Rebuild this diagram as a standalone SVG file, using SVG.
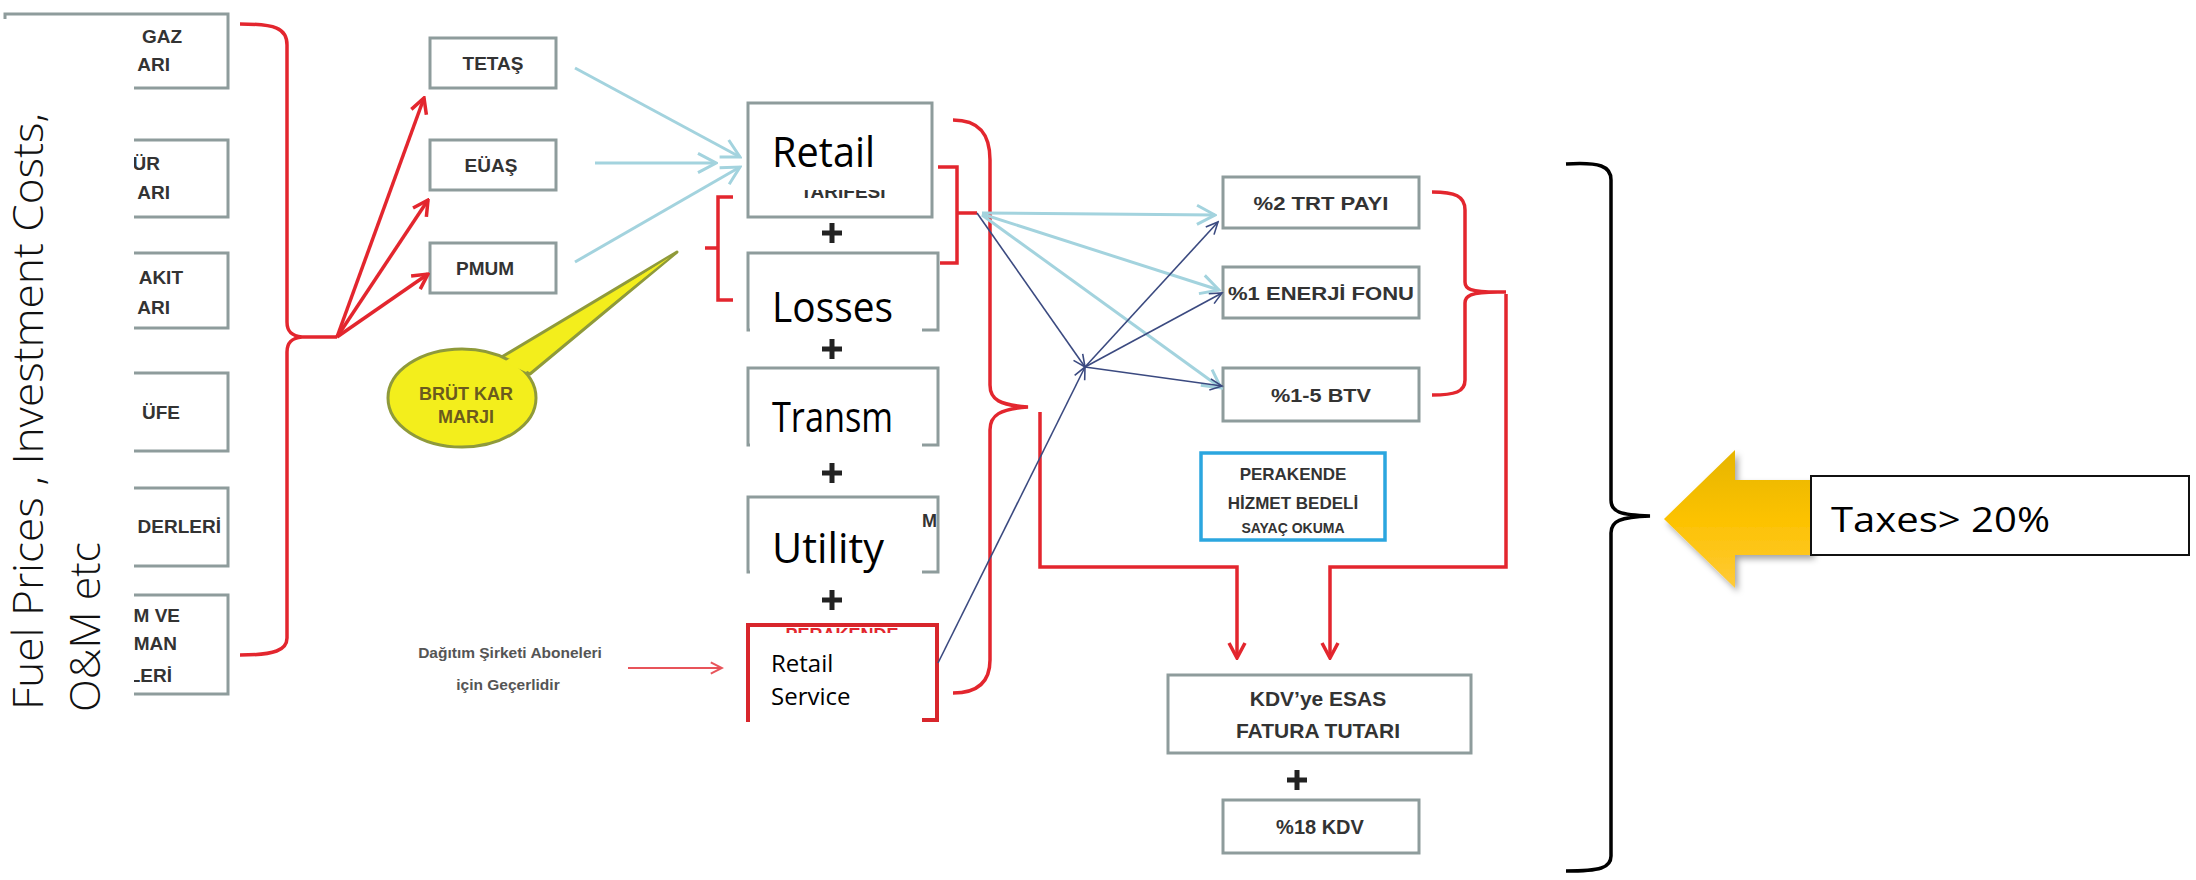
<svg xmlns="http://www.w3.org/2000/svg" width="2196" height="880" viewBox="0 0 2196 880">
<style>
.box{fill:#fff;stroke:#8e9c9c;stroke-width:3}
.lbl{font-family:"Liberation Sans",Arial,sans-serif;font-weight:bold;fill:#333;font-size:19px}
.mid{text-anchor:middle}
.end{text-anchor:end}
.big{font-family:"Open Sans","Liberation Sans",sans-serif;font-size:42px;fill:#000}
.red{fill:none;stroke:#e3262e;stroke-width:3.5}
.lb{stroke:#a3d3de;stroke-width:3;fill:none}
.nv{stroke:#3b4a80;stroke-width:1.6;fill:none}
.cover{fill:#fff}
.plus{stroke:#222;stroke-width:5;fill:none}
</style>
<defs>
<marker id="mRed" viewBox="0 0 20 20" refX="18" refY="10" markerWidth="20" markerHeight="20" markerUnits="userSpaceOnUse" orient="auto"><path d="M3,2 L18,10 L3,18" fill="none" stroke="#e3262e" stroke-width="3.5"/></marker>
<marker id="mRedThin" viewBox="0 0 20 20" refX="18" refY="10" markerWidth="16" markerHeight="16" markerUnits="userSpaceOnUse" orient="auto"><path d="M4,3 L18,10 L4,17" fill="none" stroke="#e8545a" stroke-width="2.5"/></marker>
<marker id="mLb" viewBox="0 0 20 20" refX="18" refY="10" markerWidth="24" markerHeight="24" markerUnits="userSpaceOnUse" orient="auto"><path d="M3,2 L18,10 L3,18" fill="none" stroke="#a3d3de" stroke-width="2.5"/></marker>
<marker id="mNv" viewBox="0 0 20 20" refX="18" refY="10" markerWidth="16" markerHeight="16" markerUnits="userSpaceOnUse" orient="auto"><path d="M3,3 L18,10 L3,17" fill="none" stroke="#3b4a80" stroke-width="2"/></marker>
<linearGradient id="gY" x1="0" y1="0" x2="0" y2="1"><stop offset="0" stop-color="#e6b500"/><stop offset="0.5" stop-color="#fcc200"/><stop offset="1" stop-color="#ffca38"/></linearGradient>
<filter id="sh" x="-20%" y="-20%" width="140%" height="140%"><feDropShadow dx="3" dy="4" stdDeviation="3" flood-color="#000" flood-opacity="0.35"/></filter>
</defs>
<rect width="2196" height="880" fill="#fff"/>

<!-- left input boxes -->
<g id="in1"><rect class="box" x="5" y="14" width="223" height="74"/><text class="lbl end" x="182" y="43">GAZ</text><text class="lbl end" x="170" y="71">ARI</text></g>
<g id="in2"><rect class="box" x="5" y="140" width="223" height="77"/><text class="lbl end" x="160" y="170">ÜR</text><text class="lbl end" x="170" y="199">ARI</text></g>
<g id="in3"><rect class="box" x="5" y="253" width="223" height="75"/><text class="lbl end" x="183" y="284">AKIT</text><text class="lbl end" x="170" y="314">ARI</text></g>
<g id="in4"><rect class="box" x="5" y="373" width="223" height="78"/><text class="lbl end" x="180" y="419">ÜFE</text></g>
<g id="in5"><rect class="box" x="5" y="488" width="223" height="78"/><text class="lbl end" x="221" y="533">DERLERİ</text></g>
<g id="in6"><rect class="box" x="5" y="595" width="223" height="99"/><text class="lbl end" x="180" y="622">M VE</text><text class="lbl end" x="177" y="650">MAN</text><text class="lbl end" x="172" y="682">LERİ</text></g>
<rect class="cover" x="0" y="19" width="134" height="702"/>
<g id="sideLabel" font-family="Open Sans, Liberation Sans, sans-serif" font-weight="300" font-size="43" fill="#111">
<text transform="translate(43,710) rotate(-90)" textLength="597" lengthAdjust="spacingAndGlyphs">Fuel Prices , Investment Costs,</text>
<text transform="translate(100,712) rotate(-90)" textLength="170" lengthAdjust="spacingAndGlyphs">O&amp;M etc</text>
</g>

<!-- generator boxes -->
<g id="tetas"><rect class="box" x="430" y="38" width="126" height="50"/><text class="lbl mid" x="493" y="70">TETAŞ</text></g>
<g id="euas"><rect class="box" x="430" y="140" width="126" height="50"/><text class="lbl mid" x="491" y="172">EÜAŞ</text></g>
<g id="pmum"><rect class="box" x="430" y="243" width="126" height="50"/><text class="lbl mid" x="485" y="275">PMUM</text></g>

<!-- callout -->
<g id="brut">
<polygon points="500,358 677,252 530,374" fill="#f3ee1c" stroke="#8f9a3a" stroke-width="3" stroke-linejoin="round"/>
<ellipse cx="462" cy="398" rx="74" ry="49" fill="#f3ee1c" stroke="#8f9a3a" stroke-width="3"/>
<polygon points="504,362 670,257 526,372" fill="#f3ee1c"/>
<text class="lbl mid" x="466" y="400" style="fill:#6b5a1e;font-size:18px">BRÜT  KAR</text>
<text class="lbl mid" x="466" y="423" style="fill:#6b5a1e;font-size:18px">MARJI</text>
</g>

<!-- centre column -->
<g id="retail"><rect class="box" x="748" y="103" width="184" height="114"/><text class="lbl mid" x="843" y="198">TARİFESİ</text><rect class="cover" x="750" y="112" width="172" height="78"/><text class="big" x="772" y="167" textLength="103" lengthAdjust="spacingAndGlyphs">Retail</text></g>
<g id="losses"><rect class="box" x="748" y="253" width="190" height="77"/><path class="plus" d="M822,349 H842 M832,339 V359"/><rect class="cover" x="750" y="268" width="172" height="69"/><text class="big" x="772" y="322" textLength="121" lengthAdjust="spacingAndGlyphs">Losses</text></g>
<g id="transm"><rect class="box" x="748" y="368" width="190" height="77"/><rect class="cover" x="750" y="383" width="172" height="70"/><text class="big" x="772" y="432" textLength="121" lengthAdjust="spacingAndGlyphs">Transm</text></g>
<g id="utility"><rect class="box" x="748" y="497" width="190" height="75"/><text class="lbl end" x="937" y="527" style="font-size:18px">M</text><rect class="cover" x="750" y="508" width="172" height="79"/><text class="big" x="772" y="563" textLength="112" lengthAdjust="spacingAndGlyphs">Utility</text></g>
<g id="retailService"><rect x="748" y="625" width="189" height="95" fill="#fff" stroke="#d8262c" stroke-width="4"/><text class="lbl mid" x="842" y="641" style="fill:#e3262e;font-size:18px">PERAKENDE</text><rect class="cover" x="750" y="633" width="172" height="90"/><text x="771" y="672" font-family="Open Sans, Liberation Sans, sans-serif" font-size="24" fill="#000">Retail</text><text x="771" y="705" font-family="Open Sans, Liberation Sans, sans-serif" font-size="24" fill="#000">Service</text></g>
<g id="plusSigns"><path class="plus" d="M822,233 H842 M832,223 V243"/><path class="plus" d="M822,473 H842 M832,463 V483"/><path class="plus" d="M822,600 H842 M832,590 V610"/><path class="plus" d="M1287,780 H1307 M1297,770 V790"/></g>

<g id="note"><text class="lbl mid" x="510" y="658" style="font-size:15.5px;fill:#555">Dağıtım Şirketi Aboneleri</text><text class="lbl mid" x="508" y="690" style="font-size:15.5px;fill:#555">için  Geçerlidir</text></g>

<!-- tax boxes -->
<g id="trt"><rect class="box" x="1223" y="177" width="196" height="51"/><text class="lbl mid" x="1321" y="210" textLength="135" lengthAdjust="spacingAndGlyphs">%2 TRT  PAYI</text></g>
<g id="enerji"><rect class="box" x="1223" y="267" width="196" height="51"/><text class="lbl mid" x="1321" y="300" textLength="186" lengthAdjust="spacingAndGlyphs">%1 ENERJİ FONU</text></g>
<g id="btv"><rect class="box" x="1223" y="368" width="196" height="53"/><text class="lbl mid" x="1321" y="402" textLength="100" lengthAdjust="spacingAndGlyphs">%1-5 BTV</text></g>
<g id="hizmet"><rect x="1201" y="453" width="184" height="87" fill="#fff" stroke="#2ba6df" stroke-width="3.5"/><text class="lbl mid" x="1293" y="480" style="font-size:17px">PERAKENDE</text><text class="lbl mid" x="1293" y="509" style="font-size:17px">HİZMET BEDELİ</text><text class="lbl mid" x="1293" y="533" style="font-size:14px">SAYAÇ  OKUMA</text></g>
<g id="kdvEsas"><rect class="box" x="1168" y="675" width="303" height="78"/><text class="lbl mid" x="1318" y="706" style="font-size:21px">KDV’ye ESAS</text><text class="lbl mid" x="1318" y="738" style="font-size:21px">FATURA TUTARI</text></g>
<g id="kdv"><rect class="box" x="1223" y="800" width="196" height="53"/><text class="lbl mid" x="1320" y="834" style="font-size:20px">%18 KDV</text></g>

<!-- taxes callout -->
<g id="taxesArrow"><polygon points="1664,519 1735,450 1735,480 1812,480 1812,555 1735,555 1735,588" fill="url(#gY)" filter="url(#sh)"/></g>
<g id="taxes"><rect x="1811" y="476" width="378" height="79" fill="#fff" stroke="#111" stroke-width="2"/><text x="1831" y="532" font-family="Open Sans, Liberation Sans, sans-serif" font-size="35" fill="#000" textLength="219" lengthAdjust="spacingAndGlyphs">Taxes&gt; 20%</text></g>

<!-- connectors -->
<g id="connectors">
<path class="red" d="M240,24 C275,24 287,28 287,45 L287,322 C287,332 292,336 302,337 L337,337 M302,337 C292,338 287,342 287,352 L287,638 C287,650 275,655 240,655"/>
<path class="red" d="M337,337 L424,98" marker-end="url(#mRed)" stroke-width="2.5"/>
<path class="red" d="M337,337 L428,200" marker-end="url(#mRed)" stroke-width="2.5"/>
<path class="red" d="M337,337 L428,274" marker-end="url(#mRed)" stroke-width="2.5"/>
<path class="lb" d="M575,68 L740,157" marker-end="url(#mLb)"/>
<path class="lb" d="M595,163 L716,163" marker-end="url(#mLb)"/>
<path class="lb" d="M575,262 L740,167" marker-end="url(#mLb)"/>
<path class="red" d="M733,197 L718,197 L718,300 L733,300 M718,248 L705,248"/>
<path class="red" d="M938,167 L957,167 L957,263 L940,263 M957,213 L977,213"/>
<path class="red" d="M953,120 C980,120 990,135 990,160 L990,385 C990,400 1000,405 1028,407 C1000,409 990,415 990,430 L990,660 C990,680 980,693 953,693"/>
<path class="red" d="M1040,412 L1040,567 L1237,567 L1237,658" marker-end="url(#mRed)"/>
<path class="red" d="M1432,192 C1455,192 1465,196 1465,210 L1465,282 C1465,289 1470,292 1498,292 L1506,292 M1498,292 C1470,292 1465,296 1465,303 L1465,380 C1465,392 1455,395 1432,395"/>
<path class="red" d="M1506,294 L1506,567 L1330,567 L1330,658" marker-end="url(#mRed)"/>
<path class="lb" d="M982,213 L1215,215" marker-end="url(#mLb)" stroke-width="2.5"/>
<path class="lb" d="M982,214 L1219,290" marker-end="url(#mLb)" stroke-width="2.5"/>
<path class="lb" d="M982,215 L1221,388" marker-end="url(#mLb)" stroke-width="2.5"/>
<path class="nv" d="M977,213 L1085,367" marker-end="url(#mNv)"/>
<path class="nv" d="M938,663 L1085,367" marker-end="url(#mNv)"/>
<path class="nv" d="M1085,367 L1218,222" marker-end="url(#mNv)"/>
<path class="nv" d="M1085,367 L1222,293" marker-end="url(#mNv)"/>
<path class="nv" d="M1085,367 L1222,386" marker-end="url(#mNv)"/>
<path d="M628,668 L722,668" stroke="#e8545a" stroke-width="2" fill="none" marker-end="url(#mRedThin)"/>
<path d="M1566,164 C1600,162 1611,166 1611,180 L1611,500 C1611,512 1620,515 1650,516 C1620,517 1611,521 1611,533 L1611,856 C1611,868 1600,871 1566,871" fill="none" stroke="#000" stroke-width="3.5"/>
</g>
</svg>
